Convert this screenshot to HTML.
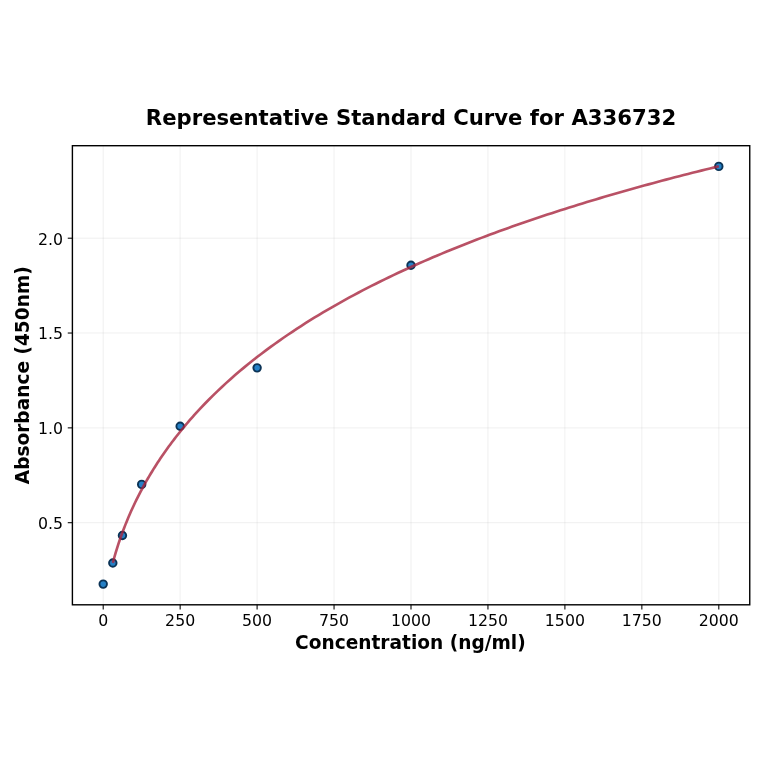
<!DOCTYPE html>
<html lang="en"><head><meta charset="utf-8"><title>Representative Standard Curve for A336732</title>
<style>
html,body{margin:0;padding:0;background:#fff;}
body{width:764px;height:764px;overflow:hidden;}
svg{display:block;}
text{font-family:"DejaVu Sans","Liberation Sans",sans-serif;fill:#000;}
.tick{font-size:15.75px;}
.lab{font-size:18.57px;font-weight:bold;}
.title{font-size:21.2px;font-weight:bold;}
</style></head><body>
<svg width="764" height="764" viewBox="0 0 764 764">
<rect x="0" y="0" width="764" height="764" fill="#ffffff"/>
<g stroke="#b0b0b0" stroke-opacity="0.2" stroke-width="0.95" fill="none">
<line x1="103.20" y1="145.70" x2="103.20" y2="604.80"/>
<line x1="180.15" y1="145.70" x2="180.15" y2="604.80"/>
<line x1="257.10" y1="145.70" x2="257.10" y2="604.80"/>
<line x1="334.05" y1="145.70" x2="334.05" y2="604.80"/>
<line x1="411.00" y1="145.70" x2="411.00" y2="604.80"/>
<line x1="487.95" y1="145.70" x2="487.95" y2="604.80"/>
<line x1="564.90" y1="145.70" x2="564.90" y2="604.80"/>
<line x1="641.85" y1="145.70" x2="641.85" y2="604.80"/>
<line x1="718.80" y1="145.70" x2="718.80" y2="604.80"/>
<line x1="72.40" y1="522.70" x2="749.75" y2="522.70"/>
<line x1="72.40" y1="427.87" x2="749.75" y2="427.87"/>
<line x1="72.40" y1="333.03" x2="749.75" y2="333.03"/>
<line x1="72.40" y1="238.20" x2="749.75" y2="238.20"/>
</g>
<g fill="#2580c6" stroke="#0b3356" stroke-width="1.9">
<circle cx="103.20" cy="584.10" r="3.75"/>
<circle cx="112.82" cy="562.95" r="3.75"/>
<circle cx="122.44" cy="535.50" r="3.75"/>
<circle cx="141.68" cy="484.40" r="3.75"/>
<circle cx="180.15" cy="426.25" r="3.75"/>
<circle cx="257.10" cy="367.85" r="3.75"/>
<circle cx="411.00" cy="265.30" r="3.75"/>
<circle cx="718.80" cy="166.40" r="3.75"/>
</g>
<polyline points="112.82,562.91 114.22,557.76 115.62,552.91 117.02,548.31 118.43,543.94 119.83,539.76 121.23,535.76 122.63,531.91 124.04,528.19 125.44,524.61 126.84,521.14 128.24,517.77 129.64,514.50 131.05,511.32 132.45,508.23 133.85,505.21 135.25,502.27 136.65,499.40 138.06,496.59 139.46,493.85 140.86,491.16 142.26,488.53 143.66,485.95 145.07,483.42 146.47,480.94 147.87,478.50 149.27,476.11 150.67,473.76 152.08,471.44 153.48,469.17 154.88,466.94 156.28,464.73 157.68,462.57 159.09,460.43 160.49,458.33 161.89,456.26 163.29,454.22 164.69,452.20 166.10,450.22 167.50,448.26 168.90,446.33 170.30,444.42 171.71,442.54 173.11,440.68 174.51,438.84 175.91,437.03 177.31,435.23 178.72,433.46 180.12,431.71 181.52,429.98 182.92,428.27 184.32,426.58 185.73,424.90 187.13,423.25 188.53,421.61 189.93,419.99 191.33,418.39 192.74,416.80 194.14,415.23 195.54,413.67 199.94,408.89 204.33,404.25 208.73,399.75 213.13,395.37 217.53,391.10 221.92,386.95 226.32,382.90 230.72,378.95 235.11,375.09 239.51,371.32 243.91,367.64 248.31,364.04 252.70,360.52 257.10,357.07 261.50,353.69 265.89,350.38 270.29,347.13 274.69,343.95 279.09,340.82 283.48,337.75 287.88,334.74 292.28,331.79 296.67,328.88 301.07,326.02 305.47,323.22 309.87,320.45 314.26,317.74 318.66,315.06 323.06,312.43 327.45,309.84 331.85,307.29 336.25,304.78 340.65,302.30 345.04,299.86 349.44,297.46 353.84,295.09 358.23,292.75 362.63,290.45 367.03,288.17 371.43,285.93 375.82,283.71 380.22,281.53 384.62,279.37 389.01,277.24 393.41,275.14 397.81,273.07 402.21,271.02 406.60,268.99 411.00,266.99 415.40,265.01 419.79,263.06 424.19,261.13 428.59,259.22 432.99,257.33 437.38,255.46 441.78,253.62 446.18,251.79 450.57,249.99 454.97,248.20 459.37,246.44 463.77,244.69 468.16,242.96 472.56,241.25 476.96,239.55 481.35,237.88 485.75,236.22 490.15,234.57 494.55,232.95 498.94,231.34 503.34,229.74 507.74,228.16 512.13,226.60 516.53,225.05 520.93,223.51 525.33,221.99 529.72,220.48 534.12,218.99 538.52,217.51 542.91,216.05 547.31,214.59 551.71,213.15 556.11,211.73 560.50,210.31 564.90,208.91 569.30,207.52 573.69,206.14 578.09,204.77 582.49,203.42 586.89,202.07 591.28,200.74 595.68,199.42 600.08,198.11 604.47,196.81 608.87,195.52 613.27,194.24 617.67,192.97 622.06,191.71 626.46,190.46 630.86,189.22 635.25,187.99 639.65,186.77 644.05,185.56 648.45,184.36 652.84,183.17 657.24,181.98 661.64,180.81 666.03,179.64 670.43,178.48 674.83,177.33 679.23,176.19 683.62,175.06 688.02,173.93 692.42,172.82 696.81,171.71 701.21,170.61 705.61,169.51 710.01,168.43 714.40,167.35 718.80,166.28" fill="none" stroke="#a7263f" stroke-opacity="0.8" stroke-width="2.65" stroke-linecap="butt" stroke-linejoin="round"/>
<g stroke="#000" stroke-width="1.06" fill="none">
<line x1="103.20" y1="604.80" x2="103.20" y2="609.44"/>
<line x1="180.15" y1="604.80" x2="180.15" y2="609.44"/>
<line x1="257.10" y1="604.80" x2="257.10" y2="609.44"/>
<line x1="334.05" y1="604.80" x2="334.05" y2="609.44"/>
<line x1="411.00" y1="604.80" x2="411.00" y2="609.44"/>
<line x1="487.95" y1="604.80" x2="487.95" y2="609.44"/>
<line x1="564.90" y1="604.80" x2="564.90" y2="609.44"/>
<line x1="641.85" y1="604.80" x2="641.85" y2="609.44"/>
<line x1="718.80" y1="604.80" x2="718.80" y2="609.44"/>
<line x1="67.76" y1="522.70" x2="72.40" y2="522.70"/>
<line x1="67.76" y1="427.87" x2="72.40" y2="427.87"/>
<line x1="67.76" y1="333.03" x2="72.40" y2="333.03"/>
<line x1="67.76" y1="238.20" x2="72.40" y2="238.20"/>
</g>
<rect x="72.40" y="145.70" width="677.35" height="459.10" fill="none" stroke="#000" stroke-width="1.4"/>
<text class="tick" x="103.20" y="626.4" text-anchor="middle">0</text>
<text class="tick" x="180.15" y="626.4" text-anchor="middle">250</text>
<text class="tick" x="257.10" y="626.4" text-anchor="middle">500</text>
<text class="tick" x="334.05" y="626.4" text-anchor="middle">750</text>
<text class="tick" x="411.00" y="626.4" text-anchor="middle">1000</text>
<text class="tick" x="487.95" y="626.4" text-anchor="middle">1250</text>
<text class="tick" x="564.90" y="626.4" text-anchor="middle">1500</text>
<text class="tick" x="641.85" y="626.4" text-anchor="middle">1750</text>
<text class="tick" x="718.80" y="626.4" text-anchor="middle">2000</text>
<text class="tick" x="63.10" y="529.10" text-anchor="end">0.5</text>
<text class="tick" x="63.10" y="434.27" text-anchor="end">1.0</text>
<text class="tick" x="63.10" y="339.43" text-anchor="end">1.5</text>
<text class="tick" x="63.10" y="244.60" text-anchor="end">2.0</text>
<text class="lab" x="410.38" y="648.6" text-anchor="middle">Concentration (ng/ml)</text>
<text class="lab" transform="translate(28.8,375.25) rotate(-90)" text-anchor="middle">Absorbance (450nm)</text>
<text class="title" x="411.07" y="125.1" text-anchor="middle">Representative Standard Curve for A336732</text>
</svg></body></html>
